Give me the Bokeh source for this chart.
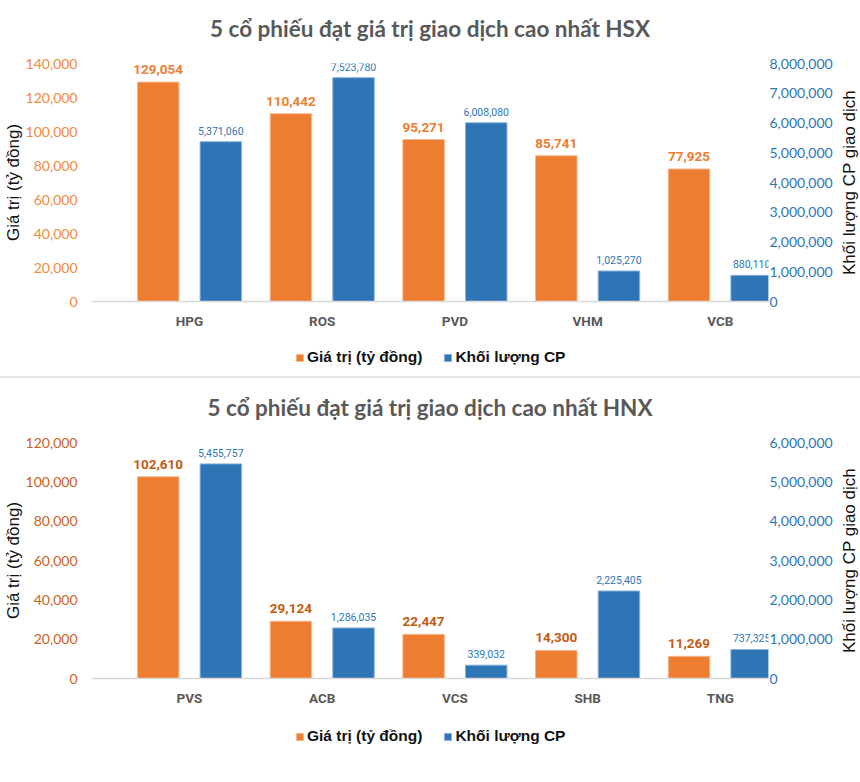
import math
from bokeh.plotting import figure
from bokeh.models import (Range1d, LinearAxis, ColumnDataSource, LabelSet, Label, Legend,
                          LegendItem, NumeralTickFormatter, SingleIntervalTicker, FixedTicker, Div)
from bokeh.layouts import column, row
from bokeh.transform import dodge
from bokeh.embed import file_html
from bokeh.resources import INLINE
from bokeh.core.properties import value

# ---------------- data ----------------
hsx_title = "5 cổ phiếu đạt giá trị giao dịch cao nhất HSX"
hsx_codes = ["HPG", "ROS", "PVD", "VHM", "VCB"]
hsx_value = [129054, 110442, 95271, 85741, 77925]
hsx_volume = [5371060, 7523780, 6008080, 1025270, 880110]

hnx_title = "5 cổ phiếu đạt giá trị giao dịch cao nhất HNX"
hnx_codes = ["PVS", "ACB", "VCS", "SHB", "TNG"]
hnx_value = [102610, 29124, 22447, 14300, 11269]
hnx_volume = [5455757, 1286035, 339032, 2225405, 737325]

series_value_name = "Giá trị (tỷ đồng)"
series_volume_name = "Khối lượng CP"
left_axis_title = "Giá trị (tỷ đồng)"
right_axis_title = "Khối lượng CP giao dịch"

ORANGE = "#ED7D31"
BLUE = "#2E75B6"
ORANGE_EDGE = "#F6B891"
BLUE_EDGE = "#8DB3DC"
W = 860
RW = 22            # strip holding the right axis title
BL, BR = 91, 92
BW = 0.3127
OFF = 0.236
X0, X1 = -0.7385, 4.363


def blank(width, height, x_range, y_range, bl, br, bt, bb):
    q = figure(width=width, height=height, output_backend="svg", toolbar_location=None,
               x_range=x_range, y_range=y_range, x_axis_type=None, y_axis_type=None,
               min_border_left=bl, min_border_right=br, min_border_top=bt,
               min_border_bottom=bb)
    q.outline_line_color = None
    q.background_fill_color = None
    q.border_fill_color = "white"
    q.xgrid.visible = False
    q.ygrid.visible = False
    return q


def make_title(text, height, y):
    q = blank(W, height, Range1d(X0, X1), Range1d(0, height), BL, BR, 0, 0)
    q.add_layout(Label(x=(X0 + X1) / 2, y=y, text=text,
                       text_align="center", text_baseline="middle",
                       text_font="Lato", text_font_style="bold",
                       text_font_size="22.5px", text_color="#595959"))
    return q


def make_right_title(height, btop, bbottom):
    q = blank(RW, height, Range1d(0, RW), Range1d(0, 1), 0, 0, btop, bbottom)
    q.add_layout(Label(x=RW / 2, y=0.5, text=right_axis_title, angle=math.pi / 2,
                       text_align="center", text_baseline="middle",
                       text_font="Liberation Sans", text_font_size="17px",
                       text_color="#111111"))
    return q


def make_chart(codes, vals, vols, vmax, vstep, volmax, volstep, height,
               btop, bbottom, tick_orange, label_orange):
    src = ColumnDataSource(dict(
        idx=list(range(len(codes))),
        val=vals,
        vol=vols,
        val_txt=[f"{v:,}" for v in vals],
        vol_txt=[f"{v:,}" for v in vols],
    ))
    p = figure(width=W - RW, height=height, output_backend="svg", toolbar_location=None,
               x_range=Range1d(X0, X1), y_range=Range1d(0, vmax),
               min_border_left=BL, min_border_right=BR - RW, min_border_top=btop,
               min_border_bottom=bbottom)
    p.extra_y_ranges = {"vol": Range1d(0, volmax)}
    p.outline_line_color = None
    p.background_fill_color = None
    p.border_fill_color = "white"
    p.xgrid.visible = False
    p.ygrid.visible = False

    p.vbar(x=dodge("idx", -OFF, range=p.x_range), top="val", width=BW, bottom=0,
           source=src, fill_color=ORANGE, line_color=ORANGE_EDGE, line_width=1)
    p.vbar(x=dodge("idx", OFF, range=p.x_range), top="vol", width=BW, bottom=0,
           source=src, fill_color=BLUE, line_color=BLUE_EDGE, line_width=1,
           y_range_name="vol")

    p.add_layout(LabelSet(x=dodge("idx", -OFF, range=p.x_range), y="val", text="val_txt",
                          source=src, y_offset=8, text_align="center", text_baseline="bottom",
                          text_font=value("Roboto"), text_font_style="bold",
                          text_font_size="13.5px", text_color=label_orange))
    p.add_layout(LabelSet(x=dodge("idx", OFF, range=p.x_range), y="vol", text="vol_txt",
                          source=src, y_offset=7, text_align="center", text_baseline="bottom",
                          text_font=value("Roboto"),
                          text_font_size="10.5px", text_color=BLUE, y_range_name="vol"))

    # x axis (categories)
    xa = p.xaxis[0]
    xa.ticker = FixedTicker(ticks=list(range(len(codes))))
    xa.major_label_overrides = {i: c for i, c in enumerate(codes)}
    xa.major_tick_out = 0
    xa.major_tick_in = 0
    xa.minor_tick_out = 0
    xa.minor_tick_in = 0
    xa.axis_line_color = "#D9D9D9"
    xa.axis_line_width = 1.5
    xa.major_label_standoff = 11
    xa.major_label_text_font = "Roboto"
    xa.major_label_text_font_style = "bold"
    xa.major_label_text_font_size = "13.5px"
    xa.major_label_text_color = "#595959"

    # left axis
    ya = p.yaxis[0]
    ya.ticker = SingleIntervalTicker(interval=vstep)
    ya.formatter = NumeralTickFormatter(format="0,0")
    ya.major_tick_out = 0
    ya.major_tick_in = 0
    ya.minor_tick_out = 0
    ya.minor_tick_in = 0
    ya.axis_line_color = None
    ya.major_label_standoff = 14
    ya.major_label_text_font = "Lato"
    ya.major_label_text_font_size = "14px"
    ya.major_label_text_color = tick_orange
    ya.axis_label = left_axis_title
    ya.axis_label_text_font = "Liberation Sans"
    ya.axis_label_text_font_style = "normal"
    ya.axis_label_text_font_size = "17px"
    ya.axis_label_text_color = "#111111"
    ya.axis_label_standoff = 0

    # right axis
    ra = LinearAxis(y_range_name="vol", ticker=SingleIntervalTicker(interval=volstep),
                    formatter=NumeralTickFormatter(format="0,0"))
    ra.major_tick_out = 0
    ra.major_tick_in = 0
    ra.minor_tick_out = 0
    ra.minor_tick_in = 0
    ra.axis_line_color = None
    ra.major_label_standoff = 1
    ra.major_label_text_font = "Lato"
    ra.major_label_text_font_size = "14px"
    ra.major_label_text_color = BLUE
    p.add_layout(ra, "right")
    return p, src


def make_legend(src, height, bottom):
    q = blank(W, height, Range1d(X0, X1), Range1d(0, height), BL, BR, 0, 0)
    r1 = q.vbar(x="idx", top="val", width=BW, source=src, visible=False,
                fill_color=ORANGE, line_color=ORANGE_EDGE, line_width=1)
    r2 = q.vbar(x="idx", top="vol", width=BW, source=src, visible=False,
                fill_color=BLUE, line_color=BLUE_EDGE, line_width=1)
    legend = Legend(items=[LegendItem(label=series_value_name, renderers=[r1]),
                           LegendItem(label=series_volume_name, renderers=[r2])],
                    orientation="horizontal", location=(204, bottom),
                    label_text_font="Liberation Sans", label_text_font_style="bold",
                    label_text_font_size="15.5px", label_text_color="#111111",
                    glyph_width=9, glyph_height=9, label_standoff=3, spacing=21,
                    padding=0, margin=0, border_line_color=None,
                    background_fill_alpha=0, inactive_fill_alpha=0)
    q.add_layout(legend)
    return q


t1 = make_title(hsx_title, 48, 20)
p1, s1 = make_chart(hsx_codes, hsx_value, hsx_volume, 140000, 20000,
                    8000000, 1000000, 288, 15, 35, "#F08A3E", ORANGE)
rt1 = make_right_title(288, 15, 35)
lg1 = make_legend(s1, 40, 10)
sep = Div(text="", width=W, height=2, margin=0,
          styles={"background-color": "#E6E6E6"})
t2 = make_title(hnx_title, 50, 21)
p2, s2 = make_chart(hnx_codes, hnx_value, hnx_volume, 120000, 20000,
                    6000000, 1000000, 287, 14, 37, "#C8641E", "#C55A11")
rt2 = make_right_title(287, 14, 37)
lg2 = make_legend(s2, 51, 21)

layout = column(t1, row(p1, rt1, spacing=0), lg1, sep,
                t2, row(p2, rt2, spacing=0), lg2, spacing=0)
open("out.html", "w").write(file_html(layout, INLINE))
